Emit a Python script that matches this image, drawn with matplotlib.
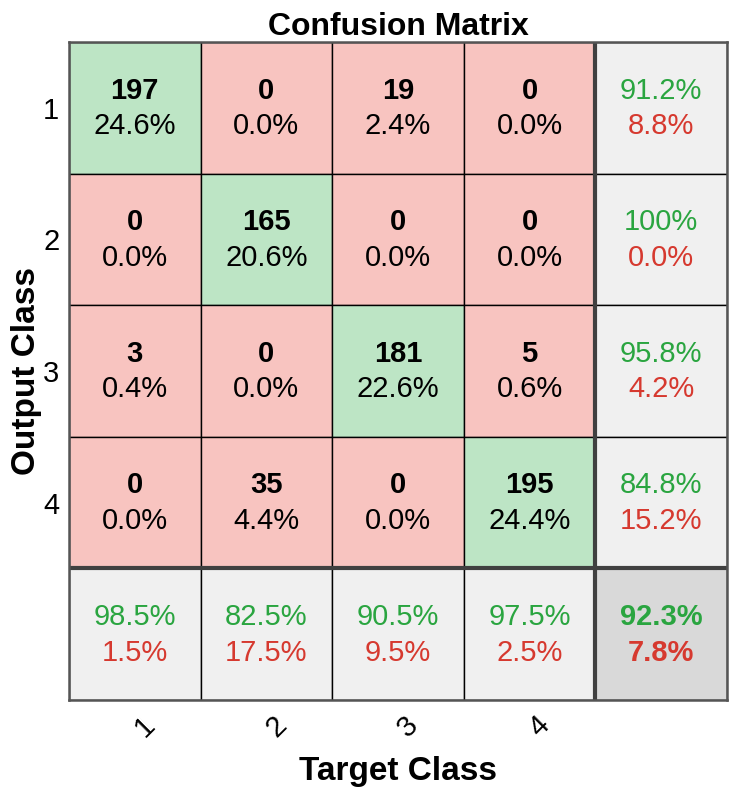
from decimal import Decimal, ROUND_HALF_UP

import numpy as np
import matplotlib.pyplot as plt
import matplotlib.transforms as mtransforms
from matplotlib.patches import Rectangle

plt.rcParams['font.family'] = ['Liberation Sans', 'DejaVu Sans']

clases = ['1', '2', '3', '4']
# filas = clase de salida, columnas = clase objetivo
conteos = np.array([
    [197, 0, 19, 0],
    [0, 165, 0, 0],
    [3, 0, 181, 5],
    [0, 35, 0, 195],
])

verde_fondo = '#bde5c5'
rojo_fondo = '#f8c4c0'
gris_fondo = '#f0f0f0'
gris_total = '#d9d9d9'
verde_txt = '#2aa540'
rojo_txt = '#d6392f'

TAM = 21


def pct(valor):
    # redondeo como MATLAB (mitad hacia arriba)
    v = Decimal(str(round(valor, 6))).quantize(Decimal('0.1'), rounding=ROUND_HALF_UP)
    if v == 100:
        return '100%'
    return '%s%%' % v


def main():
    n = len(clases)
    total = conteos.sum()
    fig = plt.figure(figsize=(7.38, 7.97), dpi=100)
    ax = fig.add_axes([69 / 738, 97 / 797, 658 / 738, 658 / 797])

    for i in range(n):
        for j in range(n):
            color = verde_fondo if i == j else rojo_fondo
            ax.add_patch(Rectangle((j, i), 1, 1, facecolor=color, edgecolor='black', lw=1))
            ax.text(j + 0.5, i + 0.37, str(conteos[i, j]), ha='center', va='center',
                    fontsize=TAM, fontweight='bold')
            ax.text(j + 0.5, i + 0.64, pct(100 * conteos[i, j] / total),
                    ha='center', va='center', fontsize=TAM)

    def porcentajes(acierto, x, y, negrita=False):
        ok = 100 * acierto
        w = 'bold' if negrita else 'normal'
        ax.text(x, y - 0.13, pct(ok), ha='center', va='center', fontsize=TAM,
                color=verde_txt, fontweight=w)
        ax.text(x, y + 0.14, pct(100 - ok), ha='center', va='center',
                fontsize=TAM, color=rojo_txt, fontweight=w)

    # columna derecha: precisión por fila
    for i in range(n):
        ax.add_patch(Rectangle((n, i), 1, 1, facecolor=gris_fondo, edgecolor='black', lw=1))
        porcentajes(conteos[i, i] / conteos[i].sum(), n + 0.5, i + 0.5)
    # fila inferior: recall por columna
    for j in range(n):
        ax.add_patch(Rectangle((j, n), 1, 1, facecolor=gris_fondo, edgecolor='black', lw=1))
        porcentajes(conteos[j, j] / conteos[:, j].sum(), j + 0.5, n + 0.5)
    ax.add_patch(Rectangle((n, n), 1, 1, facecolor=gris_total, edgecolor='black', lw=1))
    porcentajes(np.trace(conteos) / total, n + 0.5, n + 0.5, negrita=True)

    ax.plot([n, n], [0, n + 1], color='#404040', lw=3, solid_capstyle='butt')
    ax.plot([0, n + 1], [n, n], color='#404040', lw=3, solid_capstyle='butt')

    ax.set_xlim(0, n + 1)
    ax.set_ylim(n + 1, 0)
    for s in ax.spines.values():
        s.set_color('#555555')
        s.set_linewidth(1.8)
    ax.set_xticks(np.arange(n) + 0.5)
    ax.set_xticklabels(clases, rotation=45, fontsize=TAM)
    ax.set_yticks(np.arange(n) + 0.5)
    ax.set_yticklabels(clases, fontsize=TAM)
    ax.tick_params(axis='x', length=0, pad=8)
    ax.tick_params(axis='y', length=0, pad=7)
    desplazar = mtransforms.ScaledTranslation(10 / 100, 0, fig.dpi_scale_trans)
    for etiqueta in ax.get_xticklabels():
        etiqueta.set_transform(etiqueta.get_transform() + desplazar)
    ax.set_title('Confusion Matrix', fontsize=23, fontweight='bold', pad=5)
    ax.set_xlabel('Target Class', fontsize=24, fontweight='bold', labelpad=10)
    ax.set_ylabel('Output Class', fontsize=24, fontweight='bold', labelpad=1)

    fig.savefig('out.png', dpi=100)


if __name__ == '__main__':
    main()
